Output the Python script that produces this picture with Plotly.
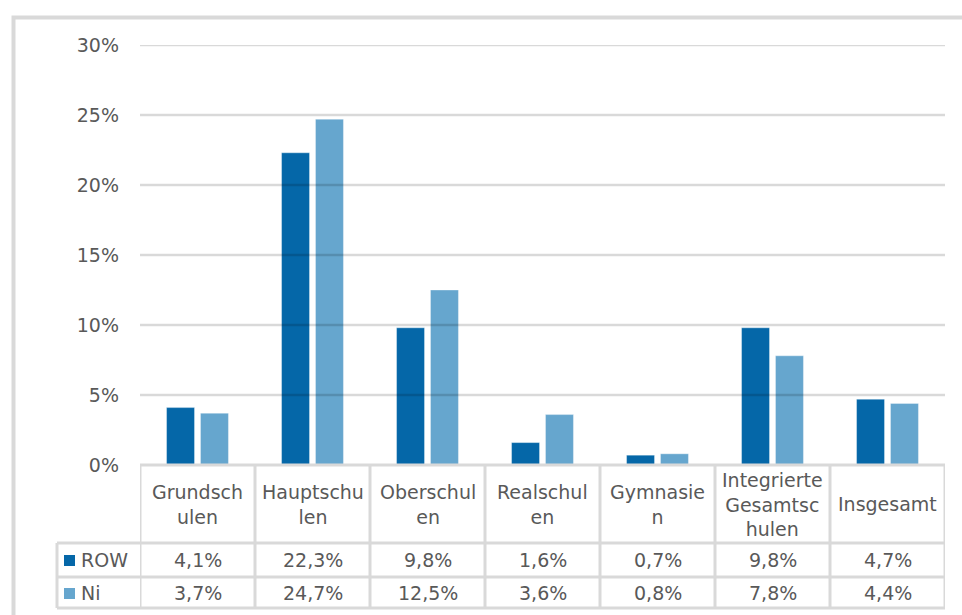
import plotly.graph_objects as go

# ---- data ----
categories = ["Grundschulen", "Hauptschulen", "Oberschulen", "Realschulen",
              "Gymnasien", "Integrierte Gesamtschulen", "Insgesamt"]
header_labels = ["Grundsch<br>ulen", "Hauptschu<br>len", "Oberschul<br>en", "Realschul<br>en",
                 "Gymnasie<br>n", "Integrierte<br>Gesamtsc<br>hulen", "Insgesamt"]
row_values = [0.041, 0.223, 0.098, 0.016, 0.007, 0.098, 0.047]
ni_values = [0.037, 0.247, 0.125, 0.036, 0.008, 0.078, 0.044]
series_names = ["ROW", "Ni"]
y_ticks = [0, 0.05, 0.10, 0.15, 0.20, 0.25, 0.30]
y_tick_labels = ["0%", "5%", "10%", "15%", "20%", "25%", "30%"]

# ---- style ----
W, H = 962, 615
L, R, T, B = 140, 17, 45, 150
PW, PH = W - L - R, H - T - B
DARK = "#0567a8"
LIGHT = "#66a6ce"
GRID = "#d9d9d9"
TXT = "#595959"
FONT = "DejaVu Sans"


def px_x(px):
    return (px - L) / PW


def px_y(py):
    return (H - B - py) / PH


x_idx = list(range(len(categories)))

fig = go.Figure()
fig.add_trace(go.Bar(x=x_idx, y=row_values, name=series_names[0], marker_color=DARK,
                     marker_line=dict(width=1, color="rgba(255,255,255,0.35)")))
fig.add_trace(go.Bar(x=x_idx, y=ni_values, name=series_names[1], marker_color=LIGHT,
                     marker_line=dict(width=1, color="rgba(255,255,255,0.35)")))

shapes = []
# gridlines (above bars, semi-transparent as in reference)
for t in y_ticks[1:]:
    shapes.append(dict(type="line", xref="paper", yref="y", x0=0, x1=1, y0=t, y1=t,
                       line=dict(color="rgba(0,0,0,0.15)", width=2.5), layer="above"))

# table geometry (pixels)
y_head_top, y_head_bot, y_row1_bot, y_row2_bot = 465, 543, 577, 608
x_leg_left = 57
tl = dict(color=GRID, width=3)
shapes.append(dict(type="line", xref="paper", yref="paper", x0=0, x1=1,
                   y0=px_y(y_head_top), y1=px_y(y_head_top), line=tl))
for yy in (y_head_bot, y_row1_bot, y_row2_bot):
    shapes.append(dict(type="line", xref="paper", yref="paper", x0=px_x(x_leg_left), x1=1,
                       y0=px_y(yy), y1=px_y(yy), line=tl))
shapes.append(dict(type="line", xref="paper", yref="paper", x0=px_x(x_leg_left), x1=px_x(x_leg_left),
                   y0=px_y(y_head_bot), y1=px_y(y_row2_bot), line=tl))
for i in range(len(categories) + 1):
    shapes.append(dict(type="line", xref="x", yref="paper", x0=i - 0.5, x1=i - 0.5,
                       y0=px_y(y_head_top), y1=px_y(y_row2_bot), line=tl))

# legend squares
for color, (ya, yb) in ((DARK, (555, 566)), (LIGHT, (588, 599))):
    shapes.append(dict(type="rect", xref="paper", yref="paper",
                       x0=px_x(64), x1=px_x(75), y0=px_y(yb), y1=px_y(ya),
                       fillcolor=color, line=dict(width=0)))

# outer frame
shapes.append(dict(type="rect", xref="paper", yref="paper",
                   x0=px_x(13.5), x1=px_x(966), y0=px_y(625), y1=px_y(17.5),
                   line=dict(color=GRID, width=4), fillcolor="rgba(0,0,0,0)", layer="below"))

annotations = []
font = dict(family=FONT, size=19, color=TXT)
for i, lab in enumerate(header_labels):
    annotations.append(dict(x=i, xref="x", y=px_y((y_head_top + y_head_bot) / 2), yref="paper",
                            text=lab, showarrow=False, font=font, xanchor="center", yanchor="middle"))


def fmt(v):
    return f"{v * 100:.1f}%".replace(".", ",")


for vals, (ya, yb) in ((row_values, (y_head_bot, y_row1_bot)), (ni_values, (y_row1_bot, y_row2_bot))):
    for i, v in enumerate(vals):
        annotations.append(dict(x=i, xref="x", y=px_y((ya + yb) / 2), yref="paper",
                                text=fmt(v), showarrow=False, font=font,
                                xanchor="center", yanchor="middle"))

for name, (ya, yb) in zip(series_names, ((y_head_bot, y_row1_bot), (y_row1_bot, y_row2_bot))):
    annotations.append(dict(x=px_x(79), xref="paper", y=px_y((ya + yb) / 2), yref="paper",
                            text=name, showarrow=False, font=font, xanchor="left", yanchor="middle"))

fig.update_layout(
    width=W, height=H,
    margin=dict(l=L, r=R, t=T, b=B, autoexpand=False),
    paper_bgcolor="white", plot_bgcolor="white",
    barmode="group", bargap=0.41, bargroupgap=0.176,
    showlegend=False,
    font=dict(family=FONT, size=19, color=TXT),
    xaxis=dict(range=[-0.5, len(categories) - 0.5], showticklabels=False, showgrid=False,
               zeroline=False, showline=False, ticks="", fixedrange=True),
    yaxis=dict(range=[0, 0.30], tickvals=y_ticks, ticktext=y_tick_labels, showgrid=False,
               zeroline=False, showline=False, ticks="", ticklabelstandoff=20,
               tickfont=dict(family=FONT, size=19, color=TXT)),
    shapes=shapes, annotations=annotations,
)

fig.write_html(
    "out.html",
    config={"displayModeBar": False},
    post_script="document.body.style.margin='0';document.body.style.overflow='hidden';"
                "document.documentElement.style.overflow='hidden';",
)
